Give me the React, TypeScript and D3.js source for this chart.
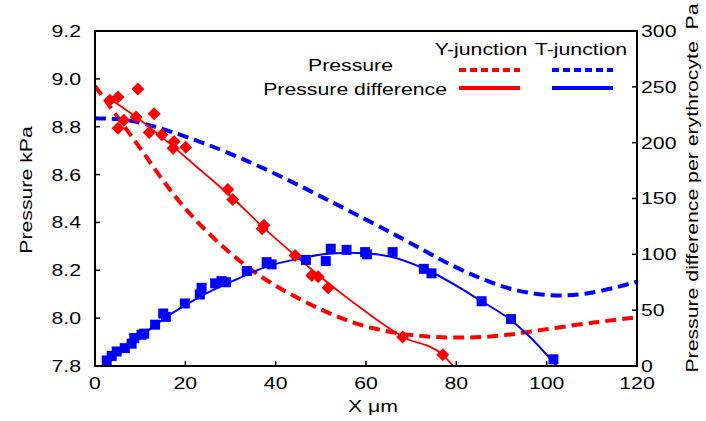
import React from "react";
import * as d3 from "d3";

// ---- data ----
const xTicks = [0, 20, 40, 60, 80, 100, 120];
const leftTicks = [7.8, 8.0, 8.2, 8.4, 8.6, 8.8, 9.0, 9.2];
const rightTicks = [0, 50, 100, 150, 200, 250, 300];

// Y-junction pressure (left axis, kPa) - dashed red
const yPressX = [0, 3.3, 11.4, 19.5, 33.6, 45.4, 56.5, 67.5, 78.6, 89.7, 100.7, 111.8, 120];
const yPressY = [8.97, 8.884, 8.675, 8.452, 8.201, 8.076, 7.978, 7.93, 7.916, 7.922, 7.957, 7.985, 8.004];

// T-junction pressure (left axis, kPa) - dashed blue
const tPressX = [0, 5, 10, 23.2, 38.5, 54, 67.5, 78.6, 89.7, 97, 104.4, 111.8, 120];
const tPressY = [8.835, 8.834, 8.821, 8.742, 8.62, 8.47, 8.34, 8.22, 8.13, 8.1, 8.09, 8.11, 8.152];

// Y-junction pressure difference fit (right axis, Pa) - solid red
const yDiffLineX = [2.7, 9.1, 14.8, 23.2, 30.6, 37, 44.3, 56.5, 68.2, 77, 79.3];
const yDiffLineY = [241, 223, 205, 176, 150, 125, 99, 59, 26, 10, 0];

// T-junction pressure difference fit (right axis, Pa) - solid blue
const tDiffLineX = [2, 5.5, 11.1, 16.6, 23.2, 31, 38, 45, 50.5, 56, 60, 65.3, 72.7, 85.6, 92.1, 96.3, 102.2];
const tDiffLineY = [3, 14, 30, 46, 62, 77, 89, 96, 100, 101.5, 101, 98, 87.5, 58, 41, 26, 0];

// Y-junction pressure difference samples (diamonds)
const yDiffPtsX = [3.3, 5.1, 9.5, 5.1, 6.4, 9.1, 13.1, 12.0, 14.8, 17.5, 17.3, 20.1, 29.4, 30.5, 37.0, 37.4, 44.3, 48.0, 49.4, 51.6, 68.1, 77.0];
const yDiffPtsY = [238, 241, 248, 213, 220, 223, 226, 209, 207, 201, 195, 196, 158, 149, 123, 126, 99, 81, 80, 70, 26, 10];

// T-junction pressure difference samples (squares)
const tDiffPtsX = [2.6, 3.7, 4.8, 6.6, 8.1, 8.7, 10.3, 10.9, 13.3, 15.1, 15.7, 19.9, 23.2, 23.6, 26.6, 28.0, 29.0, 33.6, 38.0, 39.1, 46.7, 51.1, 52.2, 55.7, 59.8, 60.2, 65.9, 72.8, 74.5, 85.6, 92.1, 101.5];
const tDiffPtsY = [5, 9, 13, 16, 20, 25, 28, 29, 37, 47, 44, 56, 64, 70, 74, 76, 75, 85, 93, 91, 95, 94, 105, 104, 102, 100, 102, 87, 83, 58, 42, 6];

const legendCols = ["Y-junction", "T-junction"];
const legendRows = ["Pressure", "Pressure difference"];

const RED = "#ff0000";
const BLUE = "#0000ff";
const FONT = "'Liberation Sans', Arial, sans-serif";
const FS = 17;
const SX = 1.25;

type TProps = { x: number; y: number; anchor?: string; rot?: number; dy?: string; children: React.ReactNode };
function Txt({ x, y, anchor = "start", rot = 0, dy, children }: TProps) {
  return (
    <g transform={`translate(${x},${y}) rotate(${rot}) scale(${SX},1)`}>
      <text x={0} y={0} dy={dy} textAnchor={anchor} fontSize={FS} xmlSpace="preserve">{children}</text>
    </g>
  );
}

export default function App() {
  const W = 706, H = 421;
  const L = 95, R = 637, T = 31, B = 366;
  const x = d3.scaleLinear().domain([0, 120]).range([L, R]);
  const yl = d3.scaleLinear().domain([7.8, 9.2]).range([B, T]);
  const yr = d3.scaleLinear().domain([0, 300]).range([B, T]);

  const lineL = (xs: number[], ys: number[]) =>
    d3.line<number>().x((_, i) => x(xs[i])).y((_, i) => yl(ys[i])).curve(d3.curveBasis)(xs) || "";
  const lineR = (xs: number[], ys: number[]) =>
    d3.line<number>().x((_, i) => x(xs[i])).y((_, i) => yr(ys[i])).curve(d3.curveMonotoneX)(xs) || "";

  const dash = "11,6";

  return (
    <svg width={W} height={H} style={{ position: "absolute", left: 0, top: 0, background: "#fff" }} fontFamily={FONT}>
      <defs>
        <clipPath id="plot">
          <rect x={L} y={T} width={R - L} height={B - T} />
        </clipPath>
      </defs>
      <rect x={0} y={0} width={W} height={H} fill="#fff" />

      <g clipPath="url(#plot)">
        <path d={lineL(yPressX, yPressY)} fill="none" stroke={RED} strokeWidth={4} strokeDasharray={dash} />
        <path d={lineL(tPressX, tPressY)} fill="none" stroke={BLUE} strokeWidth={4} strokeDasharray={dash} />
        <path d={lineR(yDiffLineX, yDiffLineY)} fill="none" stroke={RED} strokeWidth={1.8} />
        <path d={lineR(tDiffLineX, tDiffLineY)} fill="none" stroke={BLUE} strokeWidth={2} />
        {yDiffPtsX.map((v, i) => {
          const cx = x(v), cy = yr(yDiffPtsY[i]);
          const s = 6.5;
          return <path key={"d" + i} d={`M${cx},${cy - s}L${cx + s},${cy}L${cx},${cy + s}L${cx - s},${cy}Z`} fill={RED} />;
        })}
        {tDiffPtsX.map((v, i) => (
          <rect key={"s" + i} x={x(v) - 5} y={yr(tDiffPtsY[i]) - 5} width={10} height={10} fill={BLUE} />
        ))}
      </g>

      {/* frame */}
      <rect x={L} y={T} width={R - L} height={B - T} fill="none" stroke="#000" strokeWidth={2} />

      {/* x ticks */}
      {xTicks.map((t) => (
        <g key={"x" + t}>
          <line x1={x(t)} x2={x(t)} y1={B} y2={B - 5} stroke="#000" strokeWidth={1.5} />
          <Txt x={x(t)} y={389} anchor="middle">{String(t)}</Txt>
        </g>
      ))}
      {/* left ticks */}
      {leftTicks.map((t) => (
        <g key={"l" + t}>
          <line x1={L} x2={L + 5} y1={yl(t)} y2={yl(t)} stroke="#000" strokeWidth={1.5} />
          <Txt x={81} y={yl(t)} dy="0.35em" anchor="end">{t.toFixed(1)}</Txt>
        </g>
      ))}
      {/* right ticks */}
      {rightTicks.map((t) => (
        <g key={"r" + t}>
          <line x1={R} x2={R - 5} y1={yr(t)} y2={yr(t)} stroke="#000" strokeWidth={1.5} />
          <Txt x={641} y={yr(t)} dy="0.35em" anchor="start">{String(t)}</Txt>
        </g>
      ))}

      {/* axis titles */}
      <Txt x={373} y={412} anchor="middle">X μm</Txt>
      <Txt x={32} y={190} rot={-90} anchor="middle">Pressure kPa</Txt>
      <Txt x={698} y={188} rot={-90} anchor="middle">Pressure difference per erythrocyte  Pa</Txt>

      {/* legend */}
      <Txt x={481} y={55} anchor="middle">{legendCols[0]}</Txt>
      <Txt x={581} y={55} anchor="middle">{legendCols[1]}</Txt>
      <Txt x={393} y={71} anchor="end">{legendRows[0]}</Txt>
      <Txt x={447} y={95} anchor="end">{legendRows[1]}</Txt>
      <line x1={459} x2={520} y1={70} y2={70} stroke={RED} strokeWidth={4} strokeDasharray="7,4" />
      <line x1={459} x2={520} y1={88} y2={88} stroke={RED} strokeWidth={4} />
      <line x1={552} x2={613} y1={70} y2={70} stroke={BLUE} strokeWidth={4} strokeDasharray="7,4" />
      <line x1={552} x2={613} y1={88} y2={88} stroke={BLUE} strokeWidth={4} />
    </svg>
  );
}
